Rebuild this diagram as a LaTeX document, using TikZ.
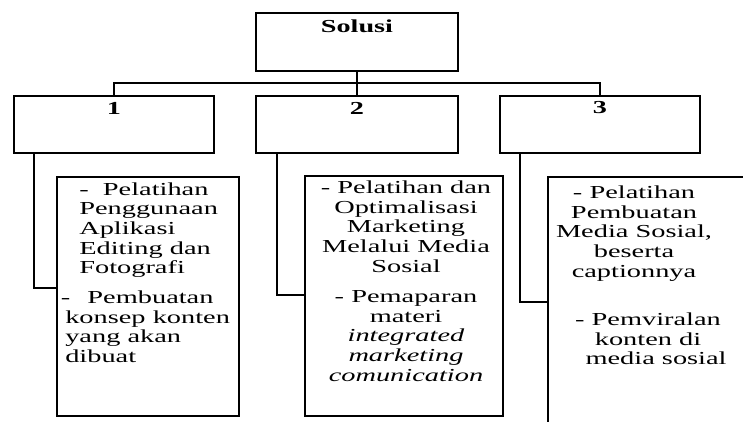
\documentclass[tikz,border=0pt]{standalone}
\usepackage{fontspec}
\setmainfont{Liberation Serif}
\begin{document}
\begin{tikzpicture}[x=1pt,y=-1pt,
  box/.style={draw, line width=1.6pt, inner sep=0pt, outer sep=0pt, anchor=north west},
  txt/.style={inner sep=0pt, xscale=1.55, transform shape, font=\fontsize{18.3}{19.6}\selectfont},
  lbl/.style={inner sep=0pt, xscale=1.54, transform shape, font=\bfseries\fontsize{18.3}{19.6}\selectfont},
  conn/.style={line width=1.6pt}]
\useasboundingbox (0,0) rectangle (743,422);
\clip (0,0) rectangle (743,422);
% top level
\node[box, minimum width=202pt, minimum height=58pt] (solusi) at (256,13) {};
\node[box, minimum width=200pt, minimum height=57pt] (b1) at (14,96) {};
\node[box, minimum width=202pt, minimum height=57pt] (b2) at (256,96) {};
\node[box, minimum width=200pt, minimum height=57pt] (b3) at (500,96) {};
\node[lbl] (lsolusi) at (357,26) {Solusi};
\node[lbl] (l1) at (114,108) {1};
\node[lbl] (l2) at (357,108) {2};
\node[lbl] (l3) at (600,108) {3};
% sub boxes
\node[box, minimum width=182pt, minimum height=239pt] (sA) at (57,177) {};
\node[box, minimum width=198pt, minimum height=240pt] (sB) at (305,176) {};
\node[box, minimum width=250pt, minimum height=249.4pt] (sC) at (548,177) {};
% connectors
\coordinate (bus) at (357,83);
\draw[conn] (solusi.south) -- (b2.north);
\draw[conn] (b1.north) |- (bus) -| (b3.north);
\draw[conn] ([xshift=20pt]b1.south west) |- ([yshift=8.5pt]sA.west);
\draw[conn] ([xshift=21pt]b2.south west) |- ([yshift=1pt]sB.west);
\draw[conn] ([xshift=20pt]b3.south west) |- (sC.west);
% texts
\node[txt, anchor=north west, align=left] (tA1) at (79,182.5)
  {-~~Pelatihan\\Penggunaan\\Aplikasi\\Editing dan\\Fotografi};
\node[txt, anchor=north west, align=left] (tA2) at (65,290.5)
  {\hspace*{-2.8pt}-\hspace{11pt}Pembuatan\\konsep konten\\yang akan\\dibuat};
\node[txt, anchor=north, align=center] (tB1) at (406,180.8)
  {- Pelatihan dan\\Optimalisasi\\Marketing\\Melalui Media\\Sosial};
\node[txt, anchor=north, align=center] (tB2) at (406,290.6)
  {- Pemaparan\\materi\\\textit{integrated}\\\textit{marketing}\\\textit{comunication}};
\node[txt, anchor=north, align=center] (tC1) at (634,185.8)
  {- Pelatihan\\Pembuatan\\Media Sosial,\\beserta\\captionnya};
\node[txt, anchor=north, align=center] (tC2) at (648,312.5)
  {- Pemviralan\hspace{8pt}\\konten di\hspace{2.6pt}\\\hspace{10.4pt}media sosial};
\end{tikzpicture}
\end{document}
